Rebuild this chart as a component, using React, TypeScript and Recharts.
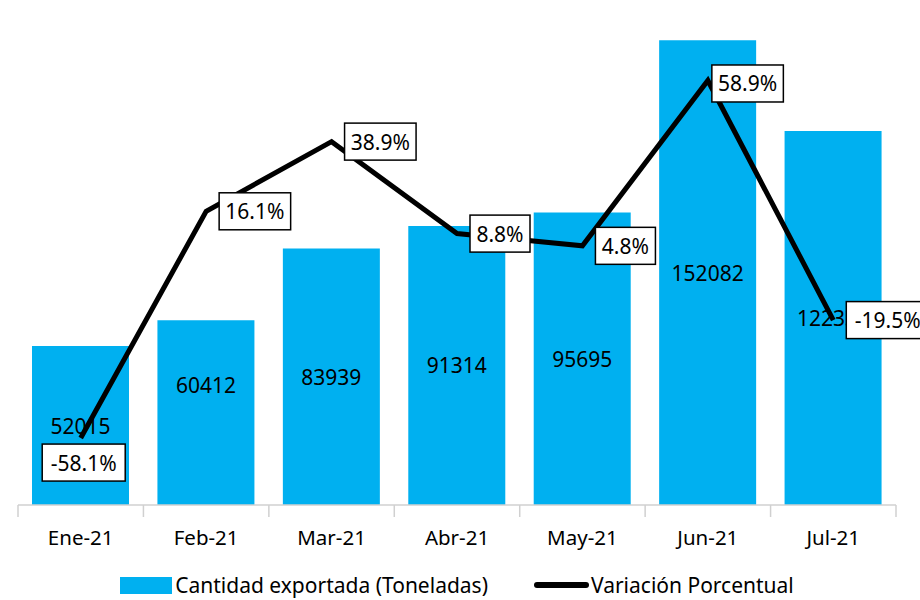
import React from "react";
import {
  ComposedChart,
  Bar,
  Line,
  XAxis,
  YAxis,
  Legend,
  LabelList,
} from "recharts";

const months = ["Ene-21", "Feb-21", "Mar-21", "Abr-21", "May-21", "Jun-21", "Jul-21"];
const tonnes = [52015, 60412, 83939, 91314, 95695, 152082, 122336];
const variation = [-58.1, 16.1, 38.9, 8.8, 4.8, 58.9, -19.5];

const data = months.map((m, i) => ({
  month: m,
  qty: tonnes[i],
  pct: variation[i],
}));

const W = 920;
const H = 600;
const MARGIN = { top: 16, right: 24, left: 18, bottom: 0 };
const X_AXIS_H = 50;
const LEGEND_H = 45;
const AXIS_Y = H - MARGIN.bottom - X_AXIS_H - LEGEND_H;
const BAND = (W - MARGIN.left - MARGIN.right) / months.length;

const FONT = "'Noto Sans', 'Open Sans', sans-serif";
const BLUE = "#00B0F0";
const AXIS_GREY = "#d0d0d0";

function MonthTick(props: any) {
  const { x, payload, index } = props;
  const left = x - BAND / 2;
  return (
    <g>
      <line x1={left} x2={left} y1={AXIS_Y} y2={AXIS_Y + 12} stroke={AXIS_GREY} strokeWidth={1.5} />
      {index === months.length - 1 && (
        <line x1={x + BAND / 2} x2={x + BAND / 2} y1={AXIS_Y} y2={AXIS_Y + 12} stroke={AXIS_GREY} strokeWidth={1.5} />
      )}
      <text
        x={x}
        y={AXIS_Y + 32}
        textAnchor="middle"
        dominantBaseline="central"
        fontSize={20.5}
        fontFamily={FONT}
        fill="#000"
      >
        {payload.value}
      </text>
    </g>
  );
}

function BarValueLabel(props: any) {
  const { x, y, width, height, value, index } = props;
  // Feb's label sits higher than the bar's middle in the original
  const shift = index === 1 ? -28 : 0;
  return (
    <text
      x={x + width / 2}
      y={y + height / 2 + shift}
      textAnchor="middle"
      dominantBaseline="central"
      fontSize={21}
      fontFamily={FONT}
      fill="#000"
    >
      {value}
    </text>
  );
}

function PctLabel(props: any) {
  const { x, y, value, index } = props;
  const text = `${Number(value).toFixed(1)}%`;
  const w = text.length * 11.5 + 14;
  const h = 37;
  let bx = x + 13;
  let by = y - h / 2;
  if (index === 0) {
    bx = x - w / 2 + 3;
    by = y + 6;
  }
  if (index === 5) {
    bx = x + 4;
    by = y - h / 2 + 3;
  }
  return (
    <g>
      <rect x={bx} y={by} width={w} height={h} fill="#fff" stroke="#000" strokeWidth={1.5} />
      <text
        x={bx + w / 2}
        y={by + h / 2}
        textAnchor="middle"
        dominantBaseline="central"
        fontSize={21}
        fontFamily={FONT}
        fill="#000"
      >
        {text}
      </text>
    </g>
  );
}

function LegendContent() {
  return (
    <div
      style={{
        display: "flex",
        alignItems: "flex-end",
        justifyContent: "center",
        fontFamily: FONT,
        fontSize: 21,
        color: "#000",
        height: LEGEND_H,
        boxSizing: "border-box",
        paddingBottom: 1,
      }}
    >
      <div style={{ display: "flex", alignItems: "center" }}>
        <span style={{ display: "inline-block", width: 52, height: 17, background: BLUE, marginRight: 3 }} />
        <span>Cantidad exportada (Toneladas)</span>
        <span
          style={{
            display: "inline-block",
            width: 55,
            height: 6,
            background: "#000",
            borderRadius: 3,
            marginLeft: 46,
            marginRight: 2,
          }}
        />
        <span>Variación Porcentual</span>
      </div>
    </div>
  );
}

export default function App() {
  return (
    <div style={{ position: "absolute", left: 0, top: 0, background: "#fff" }}>
      <ComposedChart width={W} height={H} data={data} margin={MARGIN}>
        <XAxis
          dataKey="month"
          height={X_AXIS_H}
          tickLine={false}
          axisLine={{ stroke: AXIS_GREY, strokeWidth: 1.5 }}
          tick={<MonthTick />}
          interval={0}
        />
        <YAxis yAxisId="qty" hide domain={[0, 160000]} />
        <YAxis yAxisId="pct" hide orientation="right" domain={[-80, 80]} />
        <Legend verticalAlign="bottom" content={<LegendContent />} wrapperStyle={{ height: LEGEND_H }} />
        <Bar yAxisId="qty" dataKey="qty" fill={BLUE} barSize={97} isAnimationActive={false}>
          <LabelList dataKey="qty" content={<BarValueLabel />} />
        </Bar>
        <Line
          yAxisId="pct"
          dataKey="pct"
          stroke="#000"
          strokeWidth={5}
          dot={false}
          type="linear"
          isAnimationActive={false}
        >
          <LabelList dataKey="pct" content={<PctLabel />} />
        </Line>
      </ComposedChart>
    </div>
  );
}
